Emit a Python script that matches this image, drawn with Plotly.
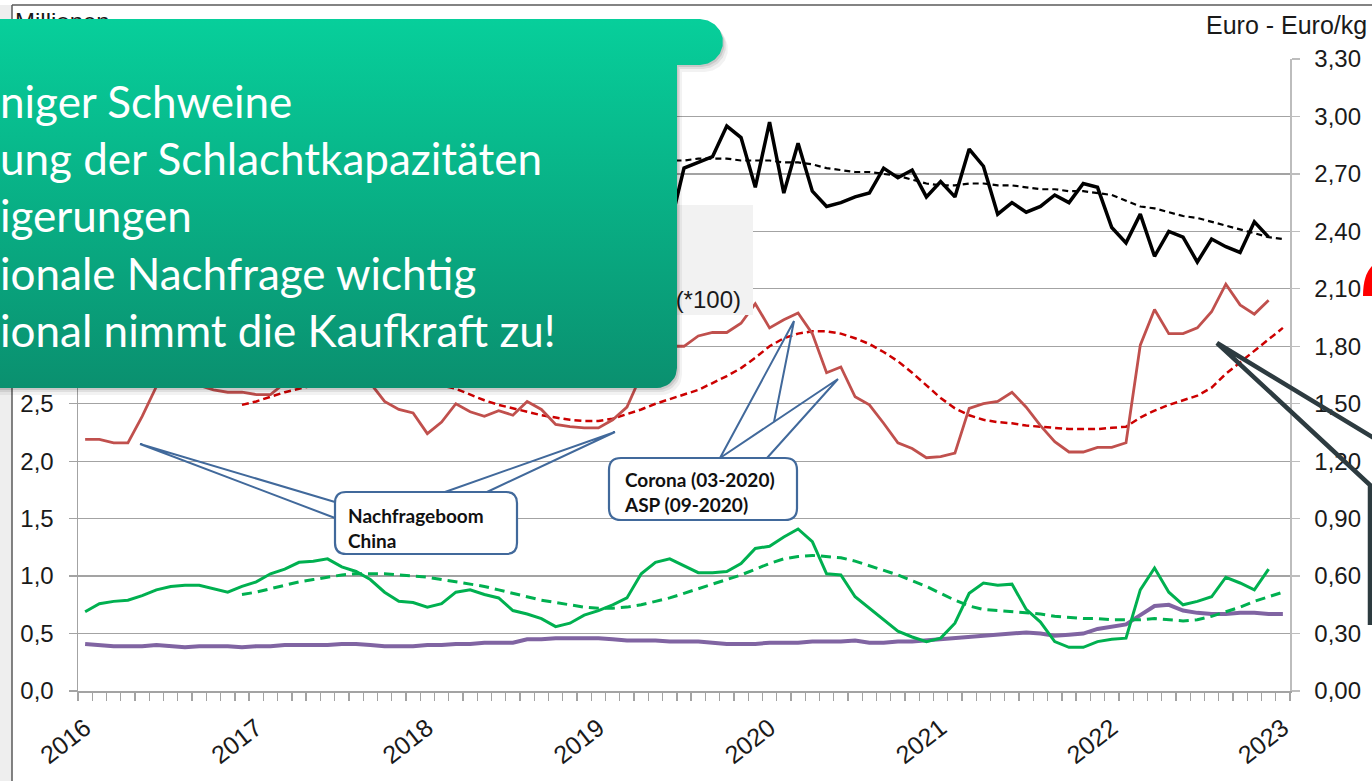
import numpy as np
import plotly.graph_objects as go

W, H = 1372, 781

# ---------------- data ----------------
months = [f"{2016 + k // 12}-{k % 12 + 1:02d}" for k in range(85)]   # 2016-01 .. 2023-01
year_labels = ["2016", "2017", "2018", "2019", "2020", "2021", "2022", "2023"]

purple_vals = [
    0.41, 0.40, 0.39, 0.39, 0.39, 0.40, 0.39, 0.38, 0.39, 0.39, 0.39, 0.38,
    0.39, 0.39, 0.40, 0.40, 0.40, 0.40, 0.41, 0.41, 0.40, 0.39, 0.39, 0.39,
    0.40, 0.40, 0.41, 0.41, 0.42, 0.42, 0.42, 0.45, 0.45, 0.46, 0.46, 0.46,
    0.46, 0.45, 0.44, 0.44, 0.44, 0.43, 0.43, 0.43, 0.42, 0.41, 0.41, 0.41,
    0.42, 0.42, 0.42, 0.43, 0.43, 0.43, 0.44, 0.42, 0.42, 0.43, 0.43, 0.44,
    0.45, 0.46, 0.47, 0.48, 0.49, 0.50, 0.51, 0.50, 0.48, 0.49, 0.50, 0.54,
    0.56, 0.58, 0.66, 0.74, 0.75, 0.70, 0.68, 0.67, 0.67, 0.68, 0.68, 0.67,
    0.67,
]
green_vals = [
    0.69, 0.76, 0.78, 0.79, 0.83, 0.88, 0.91, 0.92, 0.92, 0.89, 0.86, 0.91,
    0.95, 1.02, 1.06, 1.12, 1.13, 1.15, 1.08, 1.04, 0.97, 0.86, 0.78, 0.77,
    0.73, 0.76, 0.86, 0.88, 0.84, 0.81, 0.70, 0.67, 0.63, 0.56, 0.59, 0.66,
    0.70, 0.75, 0.81, 1.02, 1.12, 1.15, 1.09, 1.03, 1.03, 1.04, 1.11, 1.24,
    1.26, 1.34, 1.41, 1.30, 1.02, 1.01, 0.82, 0.72, 0.62, 0.52, 0.47, 0.43,
    0.46, 0.59, 0.85, 0.94, 0.92, 0.93, 0.71, 0.60, 0.43, 0.38, 0.38, 0.43,
    0.45, 0.46, 0.88, 1.07, 0.86, 0.75, 0.78, 0.82, 0.99, 0.94, 0.88, 1.06,
]
green_trend_from = "2016-12"
green_trend = [
    0.84,
    0.86, 0.89, 0.92, 0.95, 0.97, 0.99, 1.01, 1.02, 1.02, 1.02, 1.01, 1.00,
    0.99, 0.97, 0.95, 0.93, 0.91, 0.88, 0.85, 0.82, 0.79, 0.77, 0.75, 0.73,
    0.72, 0.72, 0.73, 0.75, 0.78, 0.81, 0.85, 0.89, 0.93, 0.97, 1.01, 1.06,
    1.11, 1.15, 1.17, 1.18, 1.17, 1.16, 1.13, 1.09, 1.05, 1.01, 0.96, 0.91,
    0.85, 0.79, 0.74, 0.71, 0.70, 0.69, 0.68, 0.67, 0.65, 0.64, 0.63, 0.63,
    0.62, 0.62, 0.62, 0.63, 0.62, 0.61, 0.62, 0.65, 0.69, 0.73, 0.78, 0.82,
    0.86,
]
red_vals = [
    2.19, 2.19, 2.16, 2.16, 2.39, 2.65, 2.72, 2.70, 2.66, 2.62, 2.60, 2.60,
    2.58, 2.58, 2.68, 2.80, 2.90, 2.95, 2.90, 2.80, 2.68, 2.52, 2.45, 2.42,
    2.24, 2.34, 2.50, 2.43, 2.39, 2.44, 2.40, 2.52, 2.45, 2.32, 2.30, 2.29,
    2.29, 2.36, 2.47, 2.75, 2.88, 3.00, 3.00, 3.09, 3.12, 3.12, 3.20, 3.37,
    3.16, 3.23, 3.29, 3.11, 2.77, 2.82, 2.56, 2.49, 2.33, 2.16, 2.11, 2.03,
    2.04, 2.07, 2.46, 2.50, 2.52, 2.60, 2.47, 2.31, 2.17, 2.08, 2.08, 2.12,
    2.12, 2.16, 3.01, 3.32, 3.11, 3.11, 3.16, 3.30, 3.54, 3.36, 3.28, 3.40,
]
red_trend_from = "2016-12"
red_trend = [
    2.49,
    2.52, 2.56, 2.60, 2.63, 2.66, 2.68, 2.70, 2.71, 2.72, 2.72, 2.71, 2.70,
    2.68, 2.66, 2.63, 2.58, 2.53, 2.49, 2.46, 2.43, 2.40, 2.38, 2.36, 2.35,
    2.35, 2.37, 2.41, 2.45, 2.50, 2.54, 2.58, 2.62, 2.68, 2.74, 2.81, 2.90,
    3.00, 3.07, 3.11, 3.13, 3.13, 3.11, 3.07, 3.02, 2.95, 2.87, 2.77, 2.66,
    2.55, 2.46, 2.40, 2.36, 2.34, 2.33, 2.31, 2.30, 2.29, 2.28, 2.28, 2.28,
    2.29, 2.30, 2.38, 2.44, 2.49, 2.53, 2.57, 2.64, 2.76, 2.86, 2.96, 3.06,
    3.16,
]
black_from = "2019-06"
black_vals = [
    2.42, 2.73, 2.76, 2.79, 2.95, 2.89, 2.63,
    2.97, 2.60, 2.86, 2.61, 2.53, 2.55, 2.58, 2.60, 2.73, 2.68, 2.72, 2.58,
    2.66, 2.58, 2.83, 2.74, 2.49, 2.55, 2.50, 2.53, 2.59, 2.55, 2.65, 2.63,
    2.42, 2.34, 2.49, 2.27, 2.40, 2.37, 2.24, 2.36, 2.32, 2.29, 2.45, 2.37,
]
black_trend_from = "2019-05"
black_trend = [
    2.77, 2.77, 2.77, 2.78, 2.78, 2.78, 2.77, 2.77,
    2.77, 2.76, 2.76, 2.75, 2.73, 2.72, 2.71, 2.71, 2.70, 2.69, 2.67, 2.65,
    2.64, 2.64, 2.65, 2.65, 2.64, 2.64, 2.63, 2.62, 2.62, 2.61, 2.61, 2.60,
    2.59, 2.56, 2.53, 2.52, 2.50, 2.48, 2.47, 2.45, 2.43, 2.41, 2.39, 2.37,
    2.36,
]
left_ticks = [0.0, 0.5, 1.0, 1.5, 2.0, 2.5, 3.0, 3.5, 4.0, 4.5, 5.0, 5.5]
# labels above 2,5 sit behind the green panel in the reference
left_ticktext = ["0,0", "0,5", "1,0", "1,5", "2,0", "2,5", "", "", "", "", "", ""]
right_ticks = [0.0, 0.3, 0.6, 0.9, 1.2, 1.5, 1.8, 2.1, 2.4, 2.7, 3.0, 3.3]

green_box_lines = ["niger Schweine", "ung der Schlachtkapazitäten", "igerungen",
                   "ionale Nachfrage wichtig", "ional nimmt die Kaufkraft zu!"]

# ---------------- geometry / styles ----------------
PL, PR, PT, PB = 78, 1290, 59, 691          # plot area in pixels
AX_FONT = "Liberation Sans, Arial, sans-serif"
BOX_FONT = "Lato, Carlito, Calibri, sans-serif"
GRID = "#a3a3a3"
CALLOUT = "#41699b"

idx = list(range(len(months)))


def xs_from(label, n):
    s = months.index(label)
    return idx[s:s + n]


def P(x, y):
    """pixel -> paper (margins are zero, paper = whole figure)"""
    return x / W, 1 - y / H


fig = go.Figure()

# ---- data series ----
fig.add_trace(go.Scatter(x=idx, y=purple_vals, mode="lines",
                         line=dict(color="#8064a2", width=4), yaxis="y"))
fig.add_trace(go.Scatter(x=xs_from(green_trend_from, len(green_trend)), y=green_trend, mode="lines",
                         line=dict(color="#00b050", width=3, dash="10px,6px"), yaxis="y"))
fig.add_trace(go.Scatter(x=idx[:len(green_vals)], y=green_vals, mode="lines",
                         line=dict(color="#00b050", width=3), yaxis="y"))
fig.add_trace(go.Scatter(x=xs_from(red_trend_from, len(red_trend)), y=red_trend, mode="lines",
                         line=dict(color="#cc0000", width=2.5, dash="7px,4px"), yaxis="y"))
fig.add_trace(go.Scatter(x=idx[:len(red_vals)], y=red_vals, mode="lines",
                         line=dict(color="#c0504d", width=2.8), yaxis="y"))
fig.add_trace(go.Scatter(x=xs_from(black_trend_from, len(black_trend)), y=black_trend, mode="lines",
                         line=dict(color="#000000", width=2.2, dash="6px,4px"), yaxis="y2"))
fig.add_trace(go.Scatter(x=xs_from(black_from, len(black_vals)), y=black_vals, mode="lines",
                         line=dict(color="#000000", width=3.5), yaxis="y2"))

# ---- overlay layer (pixel coordinates) ----
ov = dict(xaxis="x3", yaxis="y3", hoverinfo="skip", showlegend=False)

# grey legend box partly hidden behind the green panel
fig.add_trace(go.Scatter(x=[600, 753, 753, 600, 600], y=[205, 205, 315, 315, 205], mode="lines",
                         fill="toself", fillcolor="#f2f2f2", line=dict(width=0), **ov))
fig.add_trace(go.Scatter(x=[741], y=[302], mode="text", text=["(*100)"], textposition="middle left",
                         textfont=dict(family=AX_FONT, size=24, color="#1a1a1a"), **ov))
fig.add_trace(go.Scatter(x=[15], y=[24], mode="text", text=["Millionen"], textposition="middle right",
                         textfont=dict(family=AX_FONT, size=24, color="#1a1a1a"), **ov))


def arc(cx, cy, r, a0, a1, n=10):
    a = np.radians(np.linspace(a0, a1, n))
    return list(cx + r * np.cos(a)), list(cy + r * np.sin(a))


def panel(dx=0.0, dy=0.0):
    xs, ys = [-10, 700], [19, 19]
    ax_, ay_ = arc(700, 42, 23, -90, 90)
    xs += ax_; ys += ay_
    xs += [677, 677]; ys += [65, 368]
    bx, by = arc(657, 368, 20, 0, 90)
    xs += bx; ys += by
    xs += [-10, -10]; ys += [388, 19]
    return [v + dx for v in xs], [v + dy for v in ys]


for (dx, dy, a) in [(5, 7, 0.05), (3, 4, 0.08), (1.5, 2, 0.10)]:
    sx, sy = panel(dx, dy)
    fig.add_trace(go.Scatter(x=sx, y=sy, mode="lines", fill="toself",
                             fillcolor=f"rgba(0,0,0,{a})", line=dict(width=0), **ov))
gx, gy = panel()
fig.add_trace(go.Scatter(x=gx, y=gy, mode="lines", fill="toself", line=dict(width=0),
                         fillgradient=dict(type="vertical", start=19, stop=388,
                                           colorscale=[[0, "#07cf9b"], [1, "#0a906f"]]),
                         **ov))


# ---------------- shapes ----------------
def rrect(x0, y0, x1, y1, r):
    return (f"M{x0 + r},{y0} L{x1 - r},{y0} Q{x1},{y0} {x1},{y0 + r} L{x1},{y1 - r} "
            f"Q{x1},{y1} {x1 - r},{y1} L{x0 + r},{y1} Q{x0},{y1} {x0},{y1 - r} "
            f"L{x0},{y0 + r} Q{x0},{y0} {x0 + r},{y0} Z")


shapes = [
    # slide background strip + frame of the embedded chart
    dict(type="rect", xref="paper", yref="paper", x0=0, x1=12 / W, y0=0, y1=1 - 5 / H,
         fillcolor="#eeeeee", line=dict(width=0), layer="below"),
    dict(type="line", xref="paper", yref="paper", x0=12 / W, x1=1, y0=1 - 5 / H, y1=1 - 5 / H,
         line=dict(color="#5a5a5a", width=1.5), layer="below"),
    dict(type="line", xref="paper", yref="paper", x0=12 / W, x1=12 / W, y0=0, y1=1 - 5 / H,
         line=dict(color="#5a5a5a", width=1.5), layer="below"),
]
ovs = dict(xref="x3", yref="y3", layer="above")
# callout "Nachfrageboom China"
shapes.append(dict(type="path", path=rrect(335, 492, 517, 554, 11), fillcolor="white",
                   line=dict(color=CALLOUT, width=2.2), **ovs))
shapes.append(dict(type="path", path="M335,502 L140,444 L335,518", line=dict(color=CALLOUT, width=2), **ovs))
shapes.append(dict(type="path", path="M445,492 L615,432 L487,492", line=dict(color=CALLOUT, width=2), **ovs))
# callout "Corona / ASP"
shapes.append(dict(type="path", path=rrect(609, 458, 797, 520, 12), fillcolor="white",
                   line=dict(color=CALLOUT, width=2.2), **ovs))
shapes.append(dict(type="path", path="M720,458 L794,321 L774,422", line=dict(color=CALLOUT, width=2), **ovs))
shapes.append(dict(type="path", path="M720,458 L838,379 L767,458", line=dict(color=CALLOUT, width=2), **ovs))
# dark pointer from a callout outside the view
shapes.append(dict(type="path", path="M1374,438 L1217,343 L1370,485 L1370,625",
                   line=dict(color="#2d3b40", width=4.5), **ovs))
# red mark at the right border
shapes.append(dict(type="path", path="M1363,296 Q1363,274 1373,265 L1373,296 Z",
                   fillcolor="#ff0000", line=dict(width=0), **ovs))

# ---------------- annotations ----------------
annotations = [
    dict(xref="paper", yref="paper", x=P(-1, 0)[0], y=P(0, 74)[1], xanchor="left", yanchor="top",
         text="<br>".join(green_box_lines), align="left", showarrow=False, borderpad=0,
         font=dict(family=BOX_FONT, size=44, color="white")),
    dict(xref="paper", yref="paper", x=P(1368, 0)[0], y=P(0, 25)[1], xanchor="right", yanchor="middle",
         text="Euro - Euro/kg", showarrow=False, borderpad=0,
         font=dict(family=AX_FONT, size=25, color="#1a1a1a")),
    dict(xref="paper", yref="paper", x=P(347, 0)[0], y=P(0, 528)[1], xanchor="left", yanchor="middle",
         text="<b>Nachfrageboom</b><br><b>China</b>", align="left", showarrow=False, borderpad=0,
         font=dict(family=BOX_FONT, size=19, color="#111111")),
    dict(xref="paper", yref="paper", x=P(623, 0)[0], y=P(0, 492)[1], xanchor="left", yanchor="middle",
         text="<b>Corona (03-2020)</b><br><b>ASP (09-2020)</b>", align="left", showarrow=False, borderpad=0,
         font=dict(family=BOX_FONT, size=19, color="#111111")),
]

tickvals_x = [months.index(f"{y}-01") for y in year_labels]

fig.update_layout(
    width=W, height=H, template="none",
    margin=dict(l=0, r=0, t=0, b=0, pad=0),
    paper_bgcolor="white", plot_bgcolor="rgba(0,0,0,0)",
    showlegend=False, separators=",.",
    font=dict(family=AX_FONT, size=24, color="#1a1a1a"),
    xaxis=dict(domain=[PL / W, PR / W], range=[-0.5, len(months) - 0.5], anchor="y",
               tickmode="array", tickvals=tickvals_x, ticktext=year_labels, ticks="",
               tickangle=-38, tickfont=dict(size=25, color="#1a1a1a"),
               showline=True, linecolor=GRID, linewidth=1.5, showgrid=False, zeroline=False,
               minor=dict(ticks="outside", ticklen=8, tickwidth=1.3, tickcolor=GRID,
                          tick0=-0.5, dtick=1, showgrid=False),
               ticklabelstandoff=11, ticklabelshift=0, fixedrange=True),
    yaxis=dict(domain=[1 - PB / H, 1 - PT / H], range=[0, 5.5], anchor="x",
               tickmode="array", tickvals=left_ticks, ticktext=left_ticktext,
               ticks="outside", ticklen=8, tickwidth=1.3, tickcolor=GRID,
               showline=True, linecolor=GRID, linewidth=1.5,
               showgrid=True, gridcolor=GRID, gridwidth=1.3, zeroline=False,
               tickfont=dict(size=24, color="#1a1a1a"), ticklabelstandoff=10, fixedrange=True),
    yaxis2=dict(overlaying="y", side="right", anchor="x", range=[0, 3.3],
                tickmode="array", tickvals=right_ticks, tickformat=".2f",
                ticks="outside", ticklen=8, tickwidth=1.3, tickcolor="#bdbdbd",
                showline=True, linecolor="#bdbdbd", linewidth=1.5,
                showgrid=False, zeroline=False,
                tickfont=dict(size=24, color="#1a1a1a"), ticklabelstandoff=10, fixedrange=True),
    xaxis3=dict(domain=[0, 1], range=[0, W], anchor="y3", visible=False, fixedrange=True),
    yaxis3=dict(domain=[0, 1], range=[H, 0], anchor="x3", visible=False, fixedrange=True),
    shapes=shapes,
    annotations=annotations,
)

fig.write_html("out.html", config={"displayModeBar": False, "staticPlot": True},
               post_script="document.body.style.margin='0';document.body.style.overflow='hidden';")
